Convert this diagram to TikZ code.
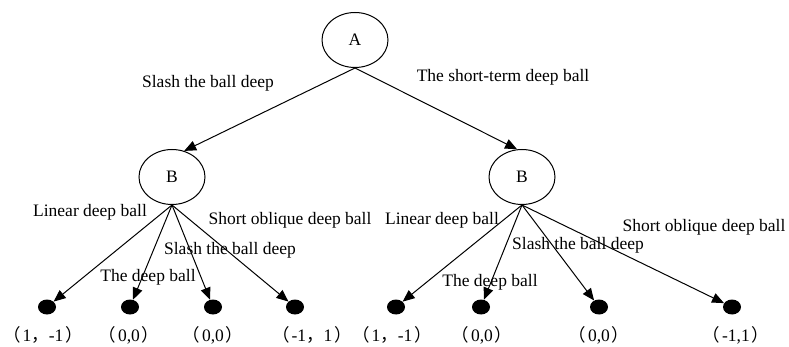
\documentclass[tikz,border=0pt]{standalone}
\usepackage{fontspec}
\setmainfont{Liberation Serif}
\newfontfamily\cjk{Noto Sans CJK SC}
\usepackage{tikz}
\usetikzlibrary{shapes.geometric,arrows.meta,positioning}

\newcommand{\lpar}{{\cjk （}\hspace{2pt}}
\newcommand{\rpar}{\hspace{2pt}{\cjk ）}}
\newcommand{\fcomma}{{\cjk ，}}

\tikzset{
  state/.style={draw, ellipse, line width=1pt, minimum width=66pt, minimum height=55pt, inner sep=0pt, font=\fontsize{17.5}{20}\selectfont},
  leaf/.style={ellipse, fill=black, minimum width=18pt, minimum height=15pt, inner sep=0pt},
  move/.style={-{Triangle[length=12pt,width=10pt]}, line width=1pt},
  lbl/.style={inner sep=0pt, font=\fontsize{17.5}{20}\selectfont},
  pay/.style={inner sep=0pt, font=\fontsize{17.5}{20}\selectfont}
}

\begin{document}
\begin{tikzpicture}[x=1pt,y=-1pt]
    \useasboundingbox (0,0) rectangle (789,347);
    % players
    \node[state] (A) at (355,40) {A};
    \node[state] (B1) at (172,177) {B};
    \node[state] (B2) at (522,177) {B};
    % first move
    \draw[move] (A.south) -- (B1.65);
    \draw[move] (A.south) -- (B2.100);
    \node[lbl] (a1) at (208,83) {Slash the ball deep};
    \node[lbl] (a2) at (503,77) {The short-term deep ball};
    % end points
    \node[leaf] (l1) at (47,307) {};
    \node[leaf] (l2) at (130,307) {};
    \node[leaf] (l3) at (213,307) {};
    \node[leaf] (l4) at (295,307) {};
    \node[leaf] (r1) at (396,307) {};
    \node[leaf] (r2) at (481,307) {};
    \node[leaf] (r3) at (599,307) {};
    \node[leaf] (r4) at (732,307) {};
    % second move, left
    \draw[move] (B1.south) -- (l1);
    \draw[move] (B1.south) -- (l2);
    \draw[move] (B1.south) -- (l3);
    \draw[move] (B1.south) -- (l4);
    \node[lbl] (b1) at (90,212) {Linear deep ball};
    \node[lbl] (b2) at (148,277) {The deep ball};
    \node[lbl] (b3) at (230,250) {Slash the ball deep};
    \node[lbl] (b4) at (290,220) {Short oblique deep ball};
    % second move, right
    \draw[move] (B2.south) -- (r1);
    \draw[move] (B2.south) -- (r2);
    \draw[move] (B2.south) -- (r3);
    \draw[move] (B2.south) -- (r4);
    \node[lbl] (c1) at (442,220) {Linear deep ball};
    \node[lbl] (c2) at (490,282) {The deep ball};
    \node[lbl] (c3) at (578,245) {Slash the ball deep};
    \node[lbl] (c4) at (704,227) {Short oblique deep ball};
    % payoffs
    \node[pay] (p1) at (43,335) {\lpar 1\fcomma -1\rpar};
    \node[pay] (p2) at (129,335) {\lpar 0,0\rpar};
    \node[pay] (p3) at (213,335) {\lpar 0,0\rpar};
    \node[pay] (p4) at (312,335) {\lpar -1\fcomma 1\rpar};
    \node[pay] (p5) at (392,335) {\lpar 1\fcomma -1\rpar};
    \node[pay] (p6) at (482,335) {\lpar 0,0\rpar};
    \node[pay] (p7) at (599,335) {\lpar 0,0\rpar};
    \node[pay] (p8) at (736,335) {\lpar -1,1\rpar};
\end{tikzpicture}
\end{document}
